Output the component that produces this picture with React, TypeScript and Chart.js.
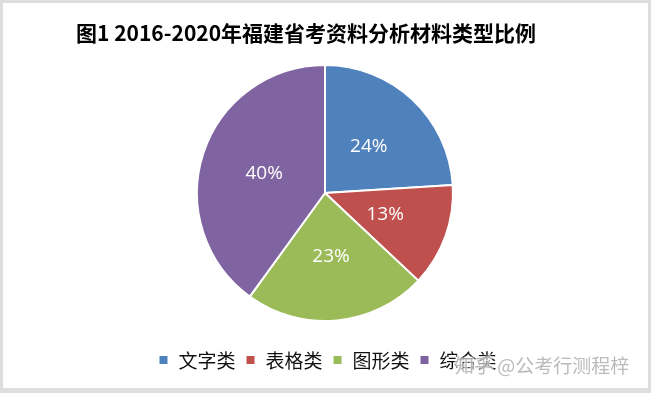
import { useEffect, useRef } from "react";
import { Chart, registerables } from "chart.js";
Chart.register(...registerables);

const TITLE = "图1 2016-2020年福建省考资料分析材料类型比例";
const categories = ["文字类", "表格类", "图形类", "综合类"];
const values = [24, 13, 23, 40];
const colors = ["#4F81BD", "#C0504D", "#9BBB59", "#8064A2"];
const WATERMARK = "知乎 @公考行测程梓";

const W = 651;
const H = 393;

const decorPlugin = {
  id: "decor",
  beforeDraw(chart: any) {
    const ctx = chart.ctx;
    ctx.save();
    ctx.fillStyle = "#dedede";
    ctx.fillRect(0, 0, W, H);
    ctx.fillStyle = "#ffffff";
    ctx.fillRect(3, 3, W - 6, H - 8);
    ctx.restore();
  },
  afterDatasetsDraw(chart: any) {
    const ctx = chart.ctx;
    const meta = chart.getDatasetMeta(0);
    ctx.save();
    ctx.fillStyle = "#ffffff";
    ctx.font = '19px "Open Sans", "Noto Sans", sans-serif';
    ctx.textAlign = "center";
    ctx.textBaseline = "middle";
    meta.data.forEach((arc: any, i: number) => {
      const p = arc.tooltipPosition();
      ctx.fillText(values[i] + "%", p.x, p.y);
    });
    ctx.restore();
  },
  afterDraw(chart: any) {
    const ctx = chart.ctx;
    ctx.save();
    // title
    ctx.fillStyle = "#000000";
    ctx.font = 'bold 21px "Noto Sans CJK SC", sans-serif';
    ctx.textAlign = "left";
    ctx.textBaseline = "middle";
    ctx.fillText(TITLE, 76, 33);

    // legend
    ctx.font = '19px "Noto Sans CJK SC", sans-serif';
    const box = 8;
    const gapBox = 11;
    const gapItem = 11;
    const widths = categories.map((c) => ctx.measureText(c).width);
    const total =
      widths.reduce((a, w) => a + box + gapBox + w, 0) + gapItem * (categories.length - 1);
    let x = (chart.chartArea.left + chart.chartArea.right) / 2 - total / 2 + 3;
    const y = 360;
    categories.forEach((c, i) => {
      ctx.fillStyle = colors[i];
      ctx.fillRect(x, y - box / 2, box, box);
      x += box + gapBox;
      ctx.fillStyle = "#111111";
      ctx.fillText(c, x, y + 1);
      x += widths[i] + gapItem;
    });

    // watermark
    ctx.font = '19px "Noto Sans CJK SC", sans-serif';
    ctx.lineWidth = 3;
    ctx.strokeStyle = "rgba(255,255,255,0.6)";
    ctx.strokeText(WATERMARK, 455, 366);
    ctx.fillStyle = "rgba(175,175,175,0.85)";
    ctx.fillText(WATERMARK, 455, 366);
    ctx.restore();
  },
};

export default function App() {
  const ref = useRef<HTMLCanvasElement | null>(null);
  useEffect(() => {
    if (!ref.current) return;
    const chart = new Chart(ref.current, {
      type: "pie",
      data: {
        labels: categories,
        datasets: [
          {
            data: values,
            backgroundColor: colors,
            borderColor: "#ffffff",
            borderWidth: 2,
          },
        ],
      },
      options: {
        responsive: false,
        animation: false,
        layout: { padding: { left: 196, right: 197, top: 64, bottom: 71 } },
        plugins: {
          legend: { display: false },
          title: { display: false },
          tooltip: { enabled: false },
        },
      },
      plugins: [decorPlugin],
    });
    return () => chart.destroy();
  }, []);
  return (
    <div style={{ position: "fixed", left: 0, top: 0, width: W, height: H }}>
      <canvas ref={ref} width={W} height={H} style={{ display: "block", width: W, height: H }} />
    </div>
  );
}
